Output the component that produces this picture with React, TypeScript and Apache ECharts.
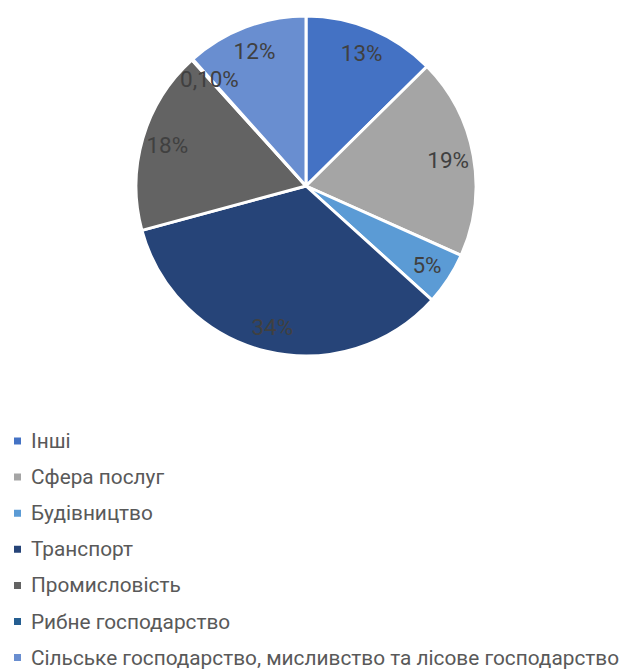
import React, { useEffect, useRef } from "react";
import * as echarts from "echarts";

const categories = [
  "Інші",
  "Сфера послуг",
  "Будівництво",
  "Транспорт",
  "Промисловість",
  "Рибне господарство",
  "Сільське господарство, мисливство та лісове господарство",
];
const shares = [12.6, 19.1, 5.0, 34.1, 17.5, 0.1, 11.6];
const colors = ["#4472C4", "#A5A5A5", "#5B9BD5", "#264478", "#636363", "#255E91", "#698ED0"];

const FONT = "Roboto, 'Noto Sans', sans-serif";

function fmt(v: number): string {
  if (v < 1) return v.toFixed(2).replace(".", ",") + "%";
  return Math.round(v) + "%";
}

export default function App() {
  const ref = useRef<HTMLDivElement>(null);
  useEffect(() => {
    document.body.style.margin = "0";
    const chart = echarts.init(ref.current!, null, { renderer: "svg" });
    const data = categories.map((name, i) => ({
      name,
      value: shares[i],
      itemStyle: { color: colors[i] },
    }));
    chart.setOption({
      animation: false,
      backgroundColor: "#ffffff",
      legend: {
        orient: "vertical",
        left: 12,
        top: 430.5,
        height: 300,
        padding: 0,
        icon: "rect",
        itemWidth: 9,
        itemHeight: 9,
        itemGap: 15.1,
        selectedMode: false,
        data: categories.map((name, i) => ({ name, itemStyle: { color: colors[i] } })),
        textStyle: {
          fontFamily: FONT,
          fontSize: 20.8,
          color: "#595959",
          padding: [0, 0, 0, 4],
        },
      },
      series: [
        {
          type: "pie",
          center: [306, 186],
          radius: [0, 170],
          startAngle: 90,
          clockwise: true,
          silent: true,
          avoidLabelOverlap: false,
          itemStyle: { borderColor: "#ffffff", borderWidth: 3 },
          label: { show: false },
          labelLine: { show: false },
          data,
        },
        {
          type: "pie",
          center: [306, 186],
          radius: [113, 170],
          startAngle: 90,
          clockwise: true,
          silent: true,
          avoidLabelOverlap: false,
          itemStyle: { color: "rgba(0,0,0,0)", borderWidth: 0 },
          label: {
            show: true,
            position: "inside",
            fontFamily: FONT,
            fontSize: 22.5,
            color: "#404040",
            formatter: (p: any) => fmt(p.value),
          },
          labelLine: { show: false },
          data: categories.map((name, i) => ({ name, value: shares[i] })),
        },
      ],
    });
    return () => chart.dispose();
  }, []);
  return <div ref={ref} style={{ width: 628, height: 670 }} />;
}
